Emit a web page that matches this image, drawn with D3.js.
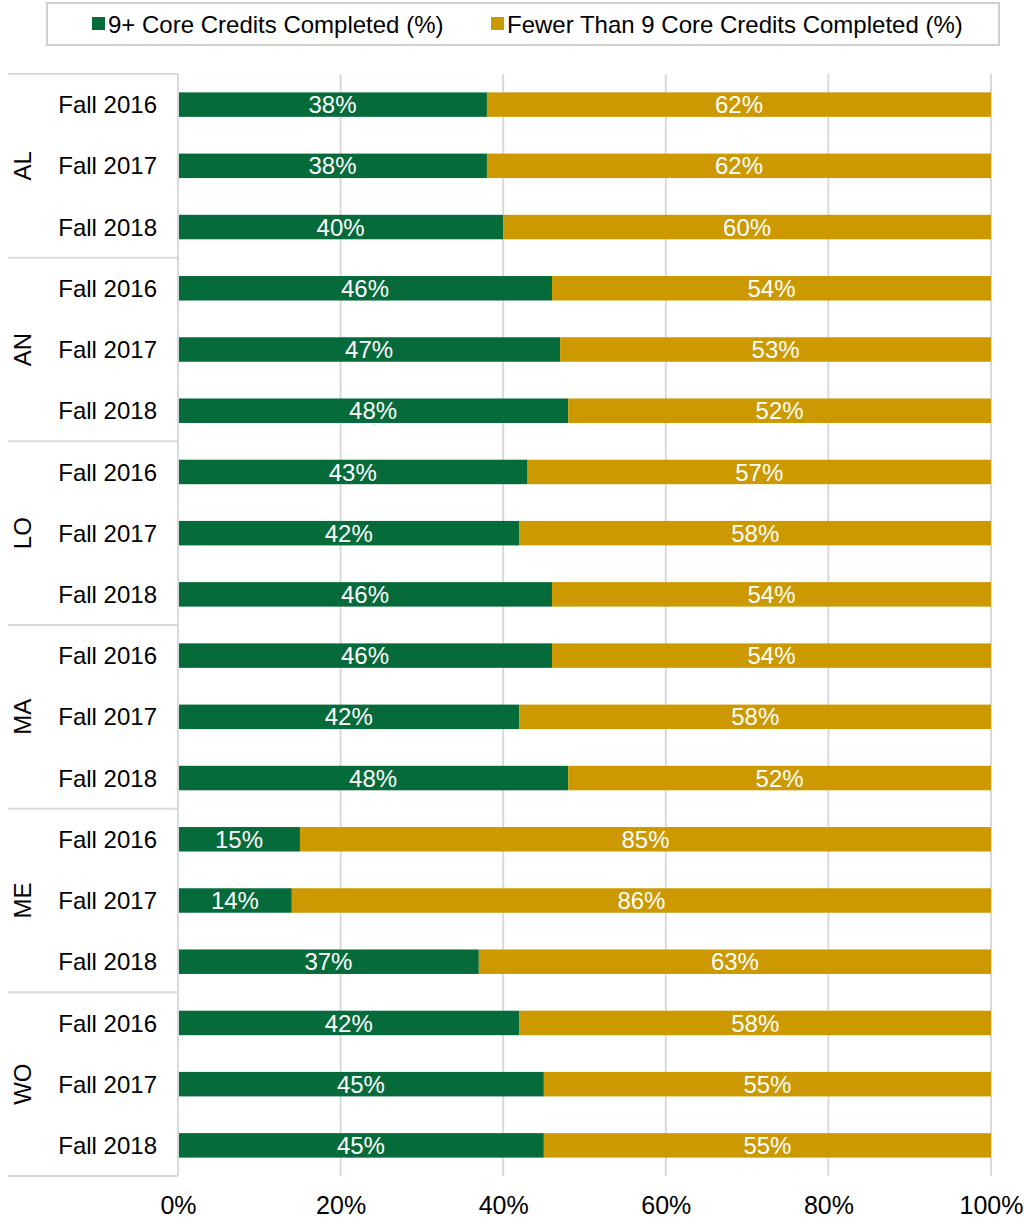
<!DOCTYPE html>
<html>
<head>
<meta charset="utf-8">
<script src="https://cdn.jsdelivr.net/npm/d3@7"></script>
<style>
  body { margin: 0; background: #fff; }
  text { font-family: "Liberation Sans", Arial, sans-serif; }
</style>
</head>
<body>
<div id="chart"></div>
<script>
// data
var groups = ["AL", "AN", "LO", "MA", "ME", "WO"];
var terms = ["Fall 2016", "Fall 2017", "Fall 2018"];
var completed = [38, 38, 40, 46, 47, 48, 43, 42, 46, 46, 42, 48, 15, 14, 37, 42, 45, 45];
var fewer = [62, 62, 60, 54, 53, 52, 57, 58, 54, 54, 58, 52, 85, 86, 63, 58, 55, 55];
var seriesNames = ["9+ Core Credits Completed (%)", "Fewer Than 9 Core Credits Completed (%)"];
var seriesColors = ["#066b3a", "#cc9900"];
var xTicks = [0, 20, 40, 60, 80, 100];

(function (d3) {
    var W = 1024, H = 1219;
    var margin = {top: 74, right: 33, bottom: 43, left: 178};
    var plotW = W - margin.left - margin.right;
    var plotH = H - margin.top - margin.bottom;

    var svg = d3.select("#chart").append("svg")
                .attr("width", W).attr("height", H);

    // rows
    var rows = [];
    groups.forEach(function (g, gi) {
        terms.forEach(function (t, ti) {
            var i = gi * terms.length + ti;
            rows.push({key: g + "|" + t, group: g, term: t, a: completed[i], b: fewer[i]});
        });
    });

    var x = d3.scaleLinear().domain([0, 100]).range([0, plotW]);
    var y = d3.scaleBand().domain(rows.map(function (d) { return d.key; }))
              .range([0, plotH]).paddingInner(0.6).paddingOuter(0.3);
    var yGroup = d3.scaleBand().domain(groups).range([0, plotH]);

    var g = svg.append("g").attr("transform", "translate(" + margin.left + "," + margin.top + ")");

    // gridlines
    g.selectAll(".grid").data(xTicks).enter().append("line")
     .attr("x1", function (d) { return x(d); }).attr("x2", function (d) { return x(d); })
     .attr("y1", 0).attr("y2", plotH)
     .style("stroke", "#d9d9d9").style("stroke-width", 2);

    // group separators on the left
    var seps = groups.map(function (d) { return yGroup(d); }).concat([plotH]);
    g.selectAll(".sep").data(seps).enter().append("line")
     .attr("x1", 8 - margin.left).attr("x2", 0)
     .attr("y1", function (d) { return d; }).attr("y2", function (d) { return d; })
     .style("stroke", "#d9d9d9").style("stroke-width", 2);

    // bars
    var bh = y.bandwidth();
    var bar = g.selectAll(".bar").data(rows).enter().append("g")
               .attr("transform", function (d) { return "translate(0," + y(d.key) + ")"; });

    bar.append("rect")
       .attr("x", 0).attr("y", 0)
       .attr("width", function (d) { return x(d.a); }).attr("height", bh)
       .style("fill", seriesColors[0]);
    bar.append("rect")
       .attr("x", function (d) { return x(d.a); }).attr("y", 0)
       .attr("width", function (d) { return x(d.a + d.b) - x(d.a); }).attr("height", bh)
       .style("fill", seriesColors[1]);

    bar.append("text")
       .attr("x", function (d) { return x(d.a / 2); }).attr("y", bh / 2)
       .attr("dy", "0.36em").attr("text-anchor", "middle")
       .style("fill", "#fff").style("font-size", "24px")
       .text(function (d) { return d.a + "%"; });
    bar.append("text")
       .attr("x", function (d) { return x(d.a + d.b / 2); }).attr("y", bh / 2)
       .attr("dy", "0.36em").attr("text-anchor", "middle")
       .style("fill", "#fff").style("font-size", "24px")
       .text(function (d) { return d.b + "%"; });

    // term labels
    g.selectAll(".term").data(rows).enter().append("text")
     .attr("x", -21).attr("y", function (d) { return y(d.key) + bh / 2; })
     .attr("dy", "0.36em").attr("text-anchor", "end")
     .style("font-size", "24px").style("fill", "#000")
     .text(function (d) { return d.term; });

    // group labels
    g.selectAll(".grp").data(groups).enter().append("text")
     .attr("transform", function (d) {
         return "translate(" + (22 - margin.left) + "," + (yGroup(d) + yGroup.bandwidth() / 2) + ") rotate(-90)";
     })
     .attr("dy", "0.36em").attr("text-anchor", "middle")
     .style("font-size", "24px").style("fill", "#000")
     .text(function (d) { return d; });

    // left axis line
    g.append("line").attr("x1", 0).attr("x2", 0).attr("y1", 0).attr("y2", plotH)
     .style("stroke", "#d9d9d9").style("stroke-width", 2);

    // x axis
    var xAxis = g.append("g").attr("transform", "translate(0," + plotH + ")")
                 .call(d3.axisBottom(x).tickValues(xTicks).tickSize(0).tickPadding(20)
                        .tickFormat(function (d) { return d + "%"; }));
    xAxis.select(".domain").remove();
    xAxis.selectAll("text").style("font-size", "25px").style("fill", "#000")
         .style("font-family", "'Liberation Sans', Arial, sans-serif");

    // legend
    var legend = svg.append("g");
    legend.append("rect").attr("x", 47).attr("y", 3).attr("width", 952).attr("height", 42)
          .style("fill", "#fff").style("stroke", "#d0d0d0").style("stroke-width", 2);
    var legX = [92, 491];
    seriesNames.forEach(function (name, i) {
        legend.append("rect").attr("x", legX[i]).attr("y", 17).attr("width", 13).attr("height", 13)
              .style("fill", seriesColors[i]);
        legend.append("text").attr("x", legX[i] + 16).attr("y", 24).attr("dy", "0.36em")
              .style("font-size", "24px").style("fill", "#000").text(name);
    });
})(d3);
</script>
</body>
</html>
